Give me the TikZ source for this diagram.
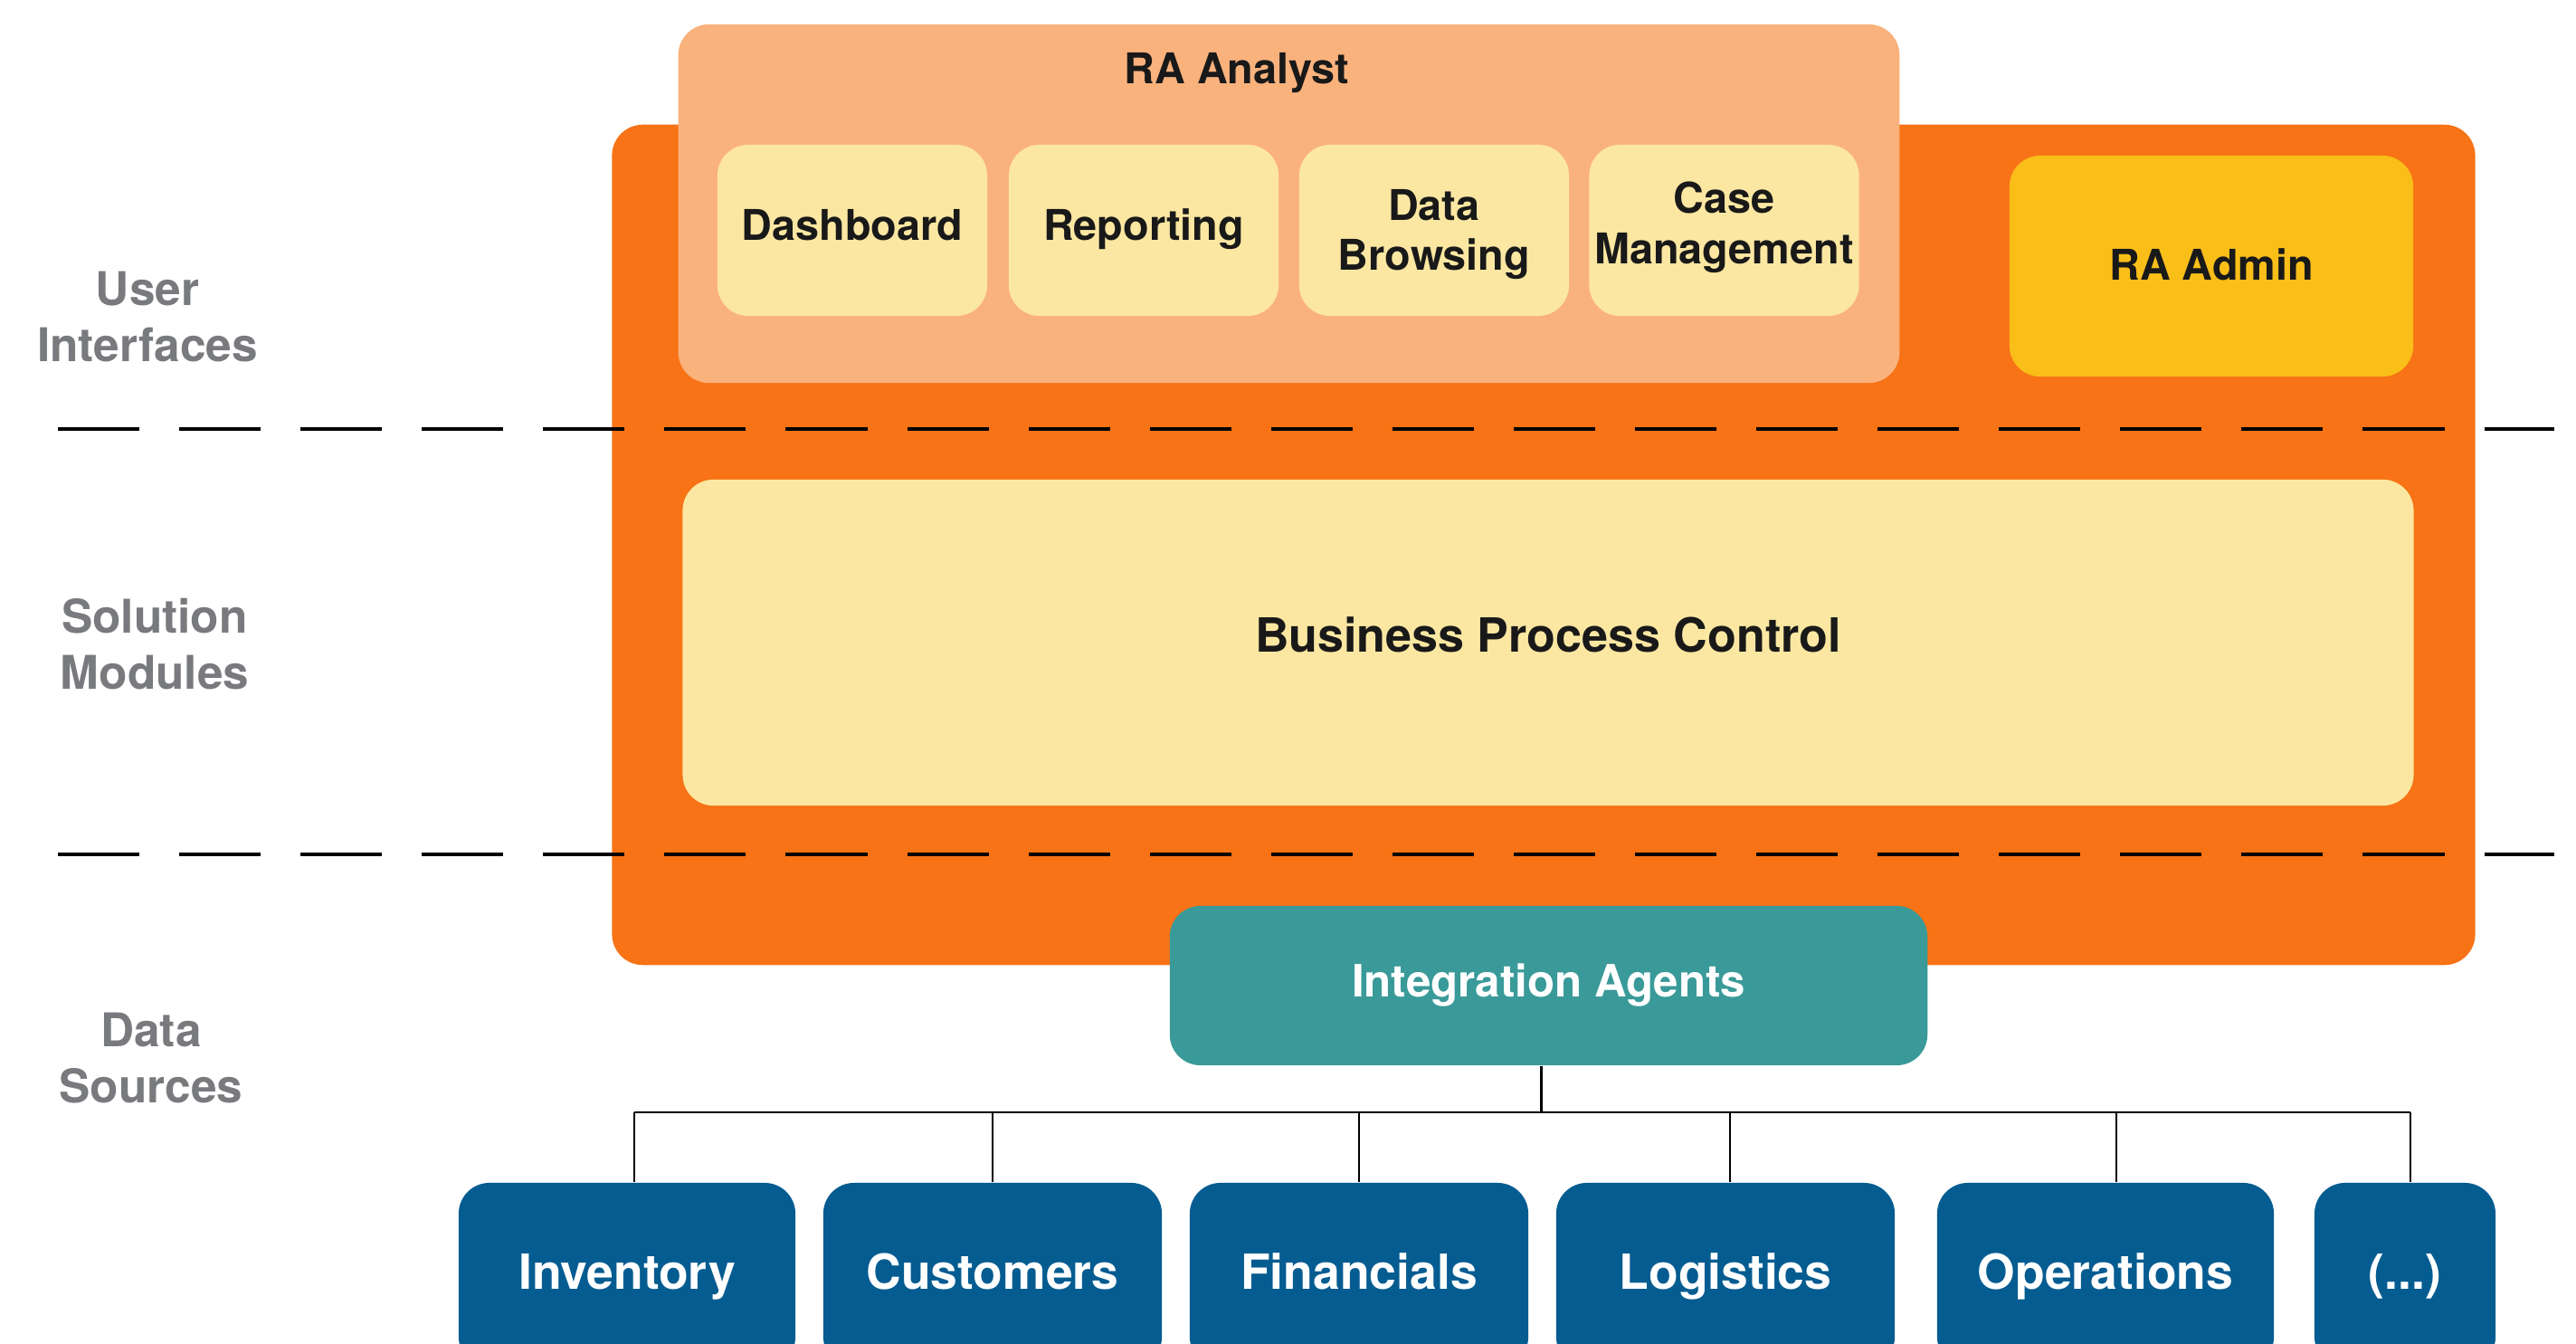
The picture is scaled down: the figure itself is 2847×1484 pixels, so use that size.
\documentclass[tikz,border=0pt]{standalone}
\usepackage{fontspec}
\setmainfont{TeX Gyre Heros}
\definecolor{bigorange}{RGB}{247,115,22}
\definecolor{lightorange}{RGB}{250,178,125}
\definecolor{paleyellow}{RGB}{252,231,162}
\definecolor{adminyellow}{RGB}{250,190,25}
\definecolor{tealc}{RGB}{58,154,153}
\definecolor{bluec}{RGB}{5,92,145}
\definecolor{grayc}{RGB}{120,122,125}
\tikzset{
  rbox/.style={rounded corners=0.34cm, inner sep=0pt, align=center, font=\bfseries},
  oneline/.style={text height=0.72em, text depth=0pt},
  uibox/.style={rbox, fill=paleyellow, minimum width=2.98cm, minimum height=1.89cm, text=black!90, font=\bfseries\fontsize{13.3}{15.9}\selectfont},
  srcbox/.style={rbox, text height=0.9em, text depth=0pt, fill=bluec, minimum height=2.04cm, text=white, font=\bfseries\fontsize{15.2}{18}\selectfont},
  layerlabel/.style={align=center, text=grayc, font=\bfseries\fontsize{14.6}{17.6}\selectfont},
  sepline/.style={line width=1.15pt, dash pattern=on 0.9cm off 0.44cm},
  wire/.style={line width=0.7pt, black}
}
\begin{document}
\begin{tikzpicture}[x=0.01cm, y=-0.01cm]
\useasboundingbox (0,0) rectangle (2847,1484);
\clip (0,0) rectangle (2847,1484);
\fill[white] (0,0) rectangle (2847,1484);

% big orange container
\node[rbox, fill=bigorange, minimum width=20.58cm, minimum height=9.28cm] (core) at (1706,602) {};

% RA Analyst group
\node[rbox, fill=lightorange, minimum width=13.49cm, minimum height=3.96cm] (analyst) at (1424.5,225) {};
\node[oneline, inner sep=0pt, text=black!90, font=\bfseries\fontsize{13.3}{15.9}\selectfont] (analystlabel) at (1367,80) {RA Analyst};
\node[uibox, text height=0.72em, text depth=0.08em] (dash) at (942,254.5) {Dashboard};
\node[uibox, text height=0.72em, text depth=0.08em] (rep) at (1264,254.5) {Reporting};
\node[uibox] (browse) at (1585,254.5) {};
\node[align=center, inner sep=0pt, text=black!90, font=\bfseries\fontsize{13.3}{15.9}\selectfont] (browsetext) at (1585,259) {Data\\Browsing};
\node[uibox] (case) at (1905.5,254.5) {};
\node[align=center, inner sep=0pt, text=black!90, font=\bfseries\fontsize{13.3}{15.9}\selectfont] (casetext) at (1905.5,251) {Case\\Management};

% RA Admin
\node[rbox, text height=0.9em, text depth=0pt, fill=adminyellow, minimum width=4.46cm, minimum height=2.44cm, text=black!90, font=\bfseries\fontsize{13.3}{15.9}\selectfont] (admin) at (2444,294) {RA Admin};

% Business Process Control
\node[rbox, text height=0.72em, text depth=0.1em, fill=paleyellow, minimum width=19.12cm, minimum height=3.60cm, text=black!90, font=\bfseries\fontsize{14.8}{17}\selectfont] (bpc) at (1711,710) {Business Process Control};

% separators
\coordinate (s1a) at (64,474); \coordinate (s1b) at (2823,474);
\coordinate (s2a) at (64,944); \coordinate (s2b) at (2823,944);
\draw[sepline] (s1a) -- (s1b);
\draw[sepline] (s2a) -- (s2b);

% Integration agents
\node[rbox, oneline, fill=tealc, minimum width=8.37cm, minimum height=1.76cm, text=white, font=\bfseries\fontsize{14}{17}\selectfont] (ia) at (1711.5,1089) {Integration Agents};

% data sources
\node[srcbox, minimum width=3.72cm] (inv) at (693,1409) {Inventory};
\node[srcbox, minimum width=3.74cm] (cust) at (1097,1409) {Customers};
\node[srcbox, minimum width=3.74cm] (fin) at (1502,1409) {Financials};
\node[srcbox, minimum width=3.74cm] (log) at (1907,1409) {Logistics};
\node[srcbox, minimum width=3.72cm] (ops) at (2327,1409) {Operations};
\node[srcbox, minimum width=2.00cm] (etc) at (2658,1409) {(...)};

% connectors
\coordinate (bus) at (1703,1229);
\draw[wire] ([xshift=-0.08cm]ia.south) -- ([xshift=-0.08cm]ia.south |- bus);
\draw[wire] ([xshift=0.08cm]inv.north |- bus) -- ([xshift=0.06cm]etc.north |- bus);
\foreach \b/\s in {inv/0.08,cust/0,fin/0,log/0.05,ops/0.12,etc/0.06}
  \draw[wire] ([xshift=\s cm]\b.north) -- ([xshift=\s cm]\b.north |- bus);

% layer labels
\node[layerlabel] (ui) at (163,350) {User\\Interfaces};
\node[layerlabel] (sm) at (171,712) {Solution\\Modules};
\node[layerlabel] (ds) at (167,1169) {Data\\Sources};
\end{tikzpicture}
\end{document}
